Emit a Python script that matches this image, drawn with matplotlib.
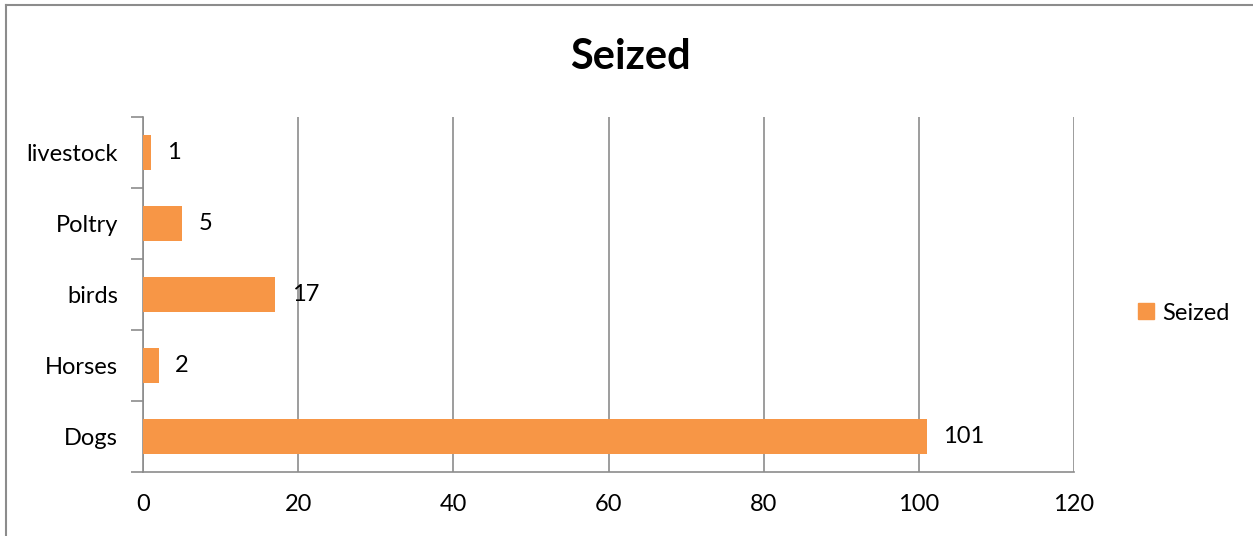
import matplotlib
matplotlib.use("Agg")
import matplotlib.pyplot as plt
from matplotlib.lines import Line2D
from matplotlib.patches import Patch

categories = ["Dogs", "Horses", "birds", "Poltry", "livestock"]
values = [101, 2, 17, 5, 1]
xticks = [0, 20, 40, 60, 80, 100, 120]
title = "Seized"
series_name = "Seized"

bar_color = "#F79646"
grid_color = "#8C8C8C"
font = ["Lato", "DejaVu Sans"]
fs = 17

W, H = 1253, 536
fig = plt.figure(figsize=(W / 100, H / 100), dpi=100)
ax = fig.add_axes([143 / W, 1 - 472 / H, (1074 - 143) / W, (472 - 117) / H])

y = list(range(len(categories)))
ax.barh(y, values, height=0.5, color=bar_color, zorder=3)
ax.set_xlim(0, 120)
ax.set_ylim(-0.5, len(categories) - 0.5)
ax.set_xticks(xticks)
ax.set_xticklabels([str(t) for t in xticks], fontsize=fs, family=font)
ax.set_yticks(y)
ax.set_yticklabels(categories, fontsize=fs, family=font)
ax.tick_params(axis="y", length=0, pad=18)
ax.tick_params(axis="x", length=0, pad=16)
ax.xaxis.grid(True, color=grid_color, linewidth=1.2, zorder=0)

for s in ["top", "right"]:
    ax.spines[s].set_visible(False)
for s in ["left", "bottom"]:
    ax.spines[s].set_color(grid_color)
    ax.spines[s].set_linewidth(1.2)

ax.set_yticks([i - 0.5 for i in range(len(categories) + 1)], minor=True)
ax.tick_params(axis="y", which="minor", length=9, color=grid_color, width=1.2)
ax.set_xticks(xticks, minor=True)
ax.tick_params(axis="x", which="minor", length=9, color=grid_color, width=1.2)

for yi, v in zip(y, values):
    ax.annotate(str(v), (v, yi), xytext=(12, 0), textcoords="offset points",
                va="center", ha="left", fontsize=fs, family=font)

fig.text(630 / W, 1 - 57 / H, title, ha="center", va="center",
         fontsize=30, fontweight="bold", family=font)

fig.legend([Patch(color=bar_color)], [series_name],
           loc="center left", bbox_to_anchor=(1117 / W, 1 - 313 / H),
           frameon=False, prop={"family": font, "size": fs},
           handlelength=0.65, handleheight=0.65, handletextpad=0.35)

fig.add_artist(Line2D([6 / W, 6 / W], [0, 1 - 5 / H], transform=fig.transFigure,
                      color=grid_color, linewidth=1.5))
fig.add_artist(Line2D([6 / W, 1], [1 - 5 / H, 1 - 5 / H], transform=fig.transFigure,
                      color=grid_color, linewidth=1.5))

fig.savefig("out.png", dpi=100)
